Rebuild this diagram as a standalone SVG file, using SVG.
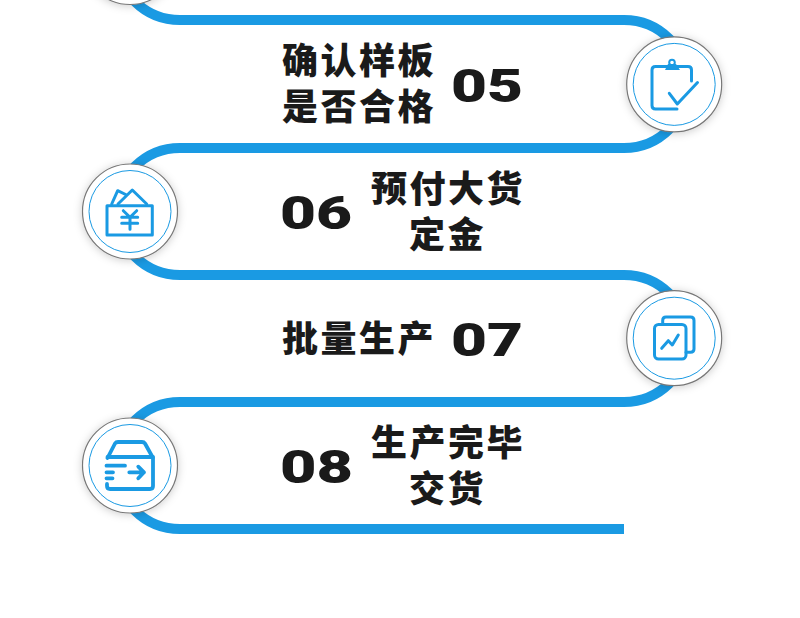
<svg xmlns="http://www.w3.org/2000/svg" width="800" height="618" viewBox="0 0 800 618">
<style>
.track{fill:none;stroke:#1a9ae3;stroke-width:10}
.outer{fill:#fff;stroke:#777;stroke-width:1.200;filter:url(#sh)}
.inner{fill:none;stroke:#1a9ae3;stroke-width:1}
.ic{fill:none;stroke:#1a9ae3;stroke-width:3;stroke-linecap:round;stroke-linejoin:round}
.cn{font-family:"Noto Sans CJK SC","Noto Sans",sans-serif;font-weight:900;font-size:36px;letter-spacing:2.500px;fill:#1a1a1a}
.num{font-family:"Roboto",sans-serif;font-weight:900;font-size:47px;fill:#1a1a1a}
</style>
<defs>
<filter id="sh" x="-30%" y="-30%" width="160%" height="160%"><feDropShadow dx="0" dy="1" stdDeviation="4" flood-color="#000" flood-opacity="0.2"/></filter>
</defs>
<rect width="800" height="618" fill="#fff"/>
<g id="connectors">
<path class="track" d="M180 529A64 63.500 0 0 1 180 402H624A64 63.500 0 0 0 624 275H180A64 63.500 0 0 1 180 148H624A64 64 0 0 0 624 20H180A64 63.500 0 0 1 180 -107"/>
<path class="track" d="M180 529H624"/>
</g>
<g id="node-04"><circle class="outer" cx="130" cy="-43" r="47.500"/></g>
<g id="node-05">
<circle class="outer" cx="674.200" cy="84.400" r="47.500"/><circle class="inner" cx="674.200" cy="84.400" r="41"/>
<path class="ic" d="M691.500 81V70Q691.500 66.500 688 66.500H655.500Q652 66.500 652 70V105.500Q652 109 655.500 109H677"/>
<path class="ic" d="M669.300 93.300L677.300 104L697.500 82.500"/>
<circle cx="672" cy="62.500" r="2.800" fill="none" stroke="#1a9ae3" stroke-width="2"/>
<path d="M665 70L668 64H676L680 70Z" fill="#1a9ae3"/>
<text class="cn" x="282" y="74">确认样板</text><text class="cn" x="282" y="120">是否合格</text>
<text class="num" x="451" y="102" textLength="72" lengthAdjust="spacingAndGlyphs">05</text>
</g>
<g id="node-06">
<circle class="outer" cx="130" cy="211.500" r="47.500"/><circle class="inner" cx="130" cy="211.500" r="41"/>
<path class="ic" d="M107 205.700H152.300V235H107Z"/>
<path class="ic" d="M111.700 204L117.700 190.700L126.700 195M118 204L132.300 190L146.700 204"/>
<path class="ic" d="M123.300 210.700L130 217.300L136.700 210.700M121.700 217.300H137.700M121.700 223.300H137.700M130 217.300V229.300"/>
<text class="num" x="280" y="229" textLength="72" lengthAdjust="spacingAndGlyphs">06</text>
<text class="cn" x="371" y="202">预付大货</text><text class="cn" x="409" y="248">定金</text>
</g>
<g id="node-07">
<circle class="outer" cx="674.200" cy="338.200" r="47.500"/><circle class="inner" cx="674.200" cy="338.200" r="41"/>
<rect class="ic" x="654.500" y="324.500" width="31.500" height="34.500" rx="4"/>
<path class="ic" d="M662.700 324V320.500Q662.700 317 666 317H690.500Q694 317 694 320.500V349Q694 352.300 690.500 352.300H686"/>
<path class="ic" d="M661.700 348.300L668.300 340.700L672.300 345L678.300 335"/>
<text class="cn" x="282" y="352">批量生产</text>
<text class="num" x="451" y="356" textLength="72" lengthAdjust="spacingAndGlyphs">07</text>
</g>
<g id="node-08">
<circle class="outer" cx="130" cy="465.500" r="47.500"/><circle class="inner" cx="130" cy="465.500" r="41"/>
<g class="ic" style="stroke-width:3.800">
<path d="M107.500 458L115 443.500Q116 442 118 442H142Q144 442 145 443.500L153 458V486Q153 489 150 489H110Q107 489 107 486V484"/>
<path d="M107.500 457H153"/>
<path d="M106.500 465.700H125M106.500 472.300H113M106.500 478.300H112.500"/>
<path d="M129.300 472.300H144M138.300 466.700L144 472.300L138.300 478.300"/>
</g>
<text class="num" x="280" y="483" textLength="73" lengthAdjust="spacingAndGlyphs">08</text>
<text class="cn" x="371" y="456">生产完毕</text><text class="cn" x="409" y="502">交货</text>
</g>
</svg>
